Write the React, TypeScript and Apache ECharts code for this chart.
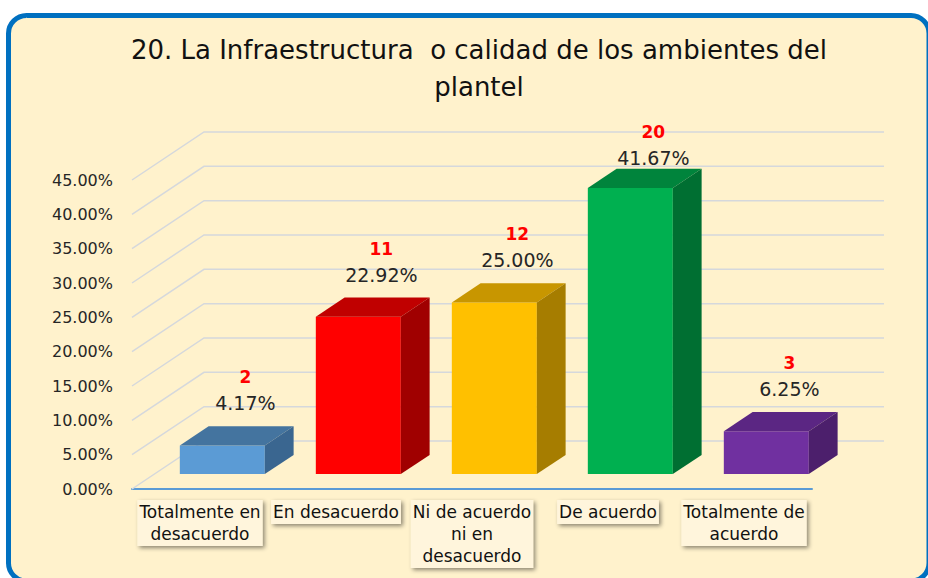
import React, { useEffect, useRef } from "react";
import * as echarts from "echarts";

const categories = [
  "Totalmente en\ndesacuerdo",
  "En desacuerdo",
  "Ni de acuerdo\nni en\ndesacuerdo",
  "De acuerdo",
  "Totalmente de\nacuerdo",
];
const counts = [2, 11, 12, 20, 3];
const percents = [4.17, 22.92, 25.0, 41.67, 6.25];
const yTicks = [0, 5, 10, 15, 20, 25, 30, 35, 40, 45];
const titleText = "20. La Infraestructura  o calidad de los ambientes del\nplantel";

const frontColors = ["#5B9BD5", "#FF0000", "#FFC000", "#00B050", "#7030A0"];
const topColors = ["#44749F", "#C00000", "#C89600", "#00843C", "#5B2683"];
const sideColors = ["#3A6690", "#A00000", "#A67D00", "#006F32", "#4C1F6C"];

const FONT = "DejaVu Sans";
const WALL_DX = 72;
const WALL_DY = -48;
const BAR_FRONT = 0.31;
const BAR_BACK = 0.71;

export default function App() {
  const ref = useRef<HTMLDivElement>(null);
  useEffect(() => {
    if (!ref.current) return;
    const chart = echarts.init(ref.current, null, { renderer: "svg" });
    const yMax = yTicks[yTicks.length - 1];
    chart.setOption({
      animation: false,
      backgroundColor: "#FFFFFF",
      title: {
        text: titleText,
        left: 474,
        top: 26,
        textAlign: "center",
        textStyle: {
          fontFamily: FONT,
          fontSize: 26,
          fontWeight: "normal",
          color: "#111111",
          lineHeight: 37,
        },
      },
      graphic: [
        {
          type: "rect",
          z: -10,
          silent: true,
          shape: { x: 8.5, y: 15.5, width: 920.5, height: 565.5, r: 18 },
          style: { fill: "#FFF2CC", stroke: "#0070C0", lineWidth: 5 },
        },
      ],
      grid: { left: 132, right: 116, top: 180, bottom: 89 },
      xAxis: {
        type: "category",
        data: categories,
        axisLine: { show: true, lineStyle: { color: "#5B9BD5", width: 2 } },
        axisTick: { show: false },
        splitLine: { show: false },
        axisLabel: {
          interval: 0,
          margin: 11,
          fontFamily: FONT,
          fontSize: 17,
          lineHeight: 22,
          color: "#111111",
          align: "center",
          backgroundColor: "#FFF5DC",
          padding: [1, 2, 1, 2],
          shadowColor: "rgba(0,0,0,0.45)",
          shadowBlur: 4,
          shadowOffsetX: 2,
          shadowOffsetY: 2,
        },
      },
      yAxis: {
        type: "value",
        min: 0,
        max: yMax,
        interval: 5,
        axisLine: { show: false },
        axisTick: { show: false },
        splitLine: { show: false },
        axisLabel: {
          margin: 19,
          fontFamily: FONT,
          fontSize: 16,
          color: "#262626",
          formatter: (v: number) => v.toFixed(2) + "%",
        },
      },
      series: [
        {
          type: "custom",
          z: 1,
          silent: true,
          clip: false,
          data: yTicks.map((t) => [0, t]),
          renderItem: (params: any, api: any) => {
            const t = api.value(1);
            const first = api.coord([0, t]);
            const last = api.coord([categories.length - 1, t]);
            const half = api.size([1, 0])[0] / 2;
            const x0 = first[0] - half;
            const x1 = last[0] + half;
            const y = first[1];
            return {
              type: "polyline",
              shape: {
                points: [
                  [x0, y],
                  [x0 + WALL_DX, y + WALL_DY],
                  [x1 + WALL_DX, y + WALL_DY],
                ],
              },
              style: { stroke: "#D5D8DC", lineWidth: 1.5, fill: null },
            };
          },
        },
        {
          type: "custom",
          z: 3,
          silent: true,
          clip: false,
          data: percents.map((p, i) => [i, p, counts[i]]),
          renderItem: (params: any, api: any) => {
            const i = api.value(0);
            const v = api.value(1);
            const c = api.value(2);
            const base = api.coord([i, 0]);
            const top = api.coord([i, v]);
            const wallTop = api.coord([i, yMax])[1] + WALL_DY;
            const cw = api.size([1, 0])[0];
            const bw = cw * 0.625;
            const ox = WALL_DX * BAR_FRONT;
            const oy = WALL_DY * BAR_FRONT;
            const ddx = WALL_DX * (BAR_BACK - BAR_FRONT);
            const ddy = WALL_DY * (BAR_BACK - BAR_FRONT);
            const xL = base[0] - bw / 2 + ox;
            const xR = xL + bw;
            const yB = base[1] + oy;
            const yT = top[1] + oy;
            const idx = params.dataIndex;
            const pctY = Math.max(yT + ddy - 23, wallTop + 26);
            const lx = xL + bw / 2 + ddx * 0.8;
            return {
              type: "group",
              children: [
                {
                  type: "rect",
                  shape: { x: xL, y: yT, width: bw, height: yB - yT },
                  style: { fill: frontColors[idx] },
                },
                {
                  type: "polygon",
                  shape: {
                    points: [
                      [xL, yT],
                      [xR, yT],
                      [xR + ddx, yT + ddy],
                      [xL + ddx, yT + ddy],
                    ],
                  },
                  style: { fill: topColors[idx] },
                },
                {
                  type: "polygon",
                  shape: {
                    points: [
                      [xR, yT],
                      [xR + ddx, yT + ddy],
                      [xR + ddx, yB + ddy],
                      [xR, yB],
                    ],
                  },
                  style: { fill: sideColors[idx] },
                },
                {
                  type: "text",
                  x: lx,
                  y: pctY,
                  style: {
                    text: v.toFixed(2) + "%",
                    fontFamily: FONT,
                    fontSize: 19,
                    fill: "#262626",
                    align: "center",
                    verticalAlign: "middle",
                  },
                },
                {
                  type: "text",
                  x: lx,
                  y: pctY - 26,
                  style: {
                    text: String(c),
                    fontFamily: FONT,
                    fontSize: 17,
                    fontWeight: "bold",
                    fill: "#FF0000",
                    align: "center",
                    verticalAlign: "middle",
                  },
                },
              ],
            };
          },
        },
      ],
    });
    return () => chart.dispose();
  }, []);
  return (
    <div
      ref={ref}
      style={{ position: "absolute", left: 0, top: 0, width: 928, height: 578 }}
    />
  );
}
